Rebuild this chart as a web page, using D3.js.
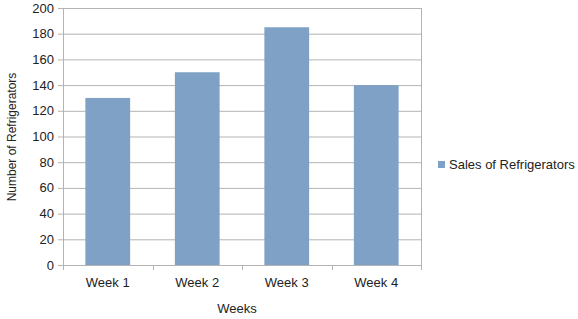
<!DOCTYPE html>
<html>
<head>
<meta charset="utf-8">
<script src="https://cdn.jsdelivr.net/npm/d3@7"></script>
<style>
  body { margin: 0; background: #fff; }
  svg { font-family: "Liberation Sans", Arial, sans-serif; }
</style>
</head>
<body>
<svg id="svg" width="578" height="319"></svg>
<script>
// data
const weeks = ['Week 1', 'Week 2', 'Week 3', 'Week 4'];
const sales = [130, 150, 185, 140];
const yTicks = [0, 20, 40, 60, 80, 100, 120, 140, 160, 180, 200];
const seriesName = 'Sales of Refrigerators';

const svg = d3.select('#svg');
const plotL = 63, plotR = 421, plotT = 8, plotB = 265;

const x = d3.scaleBand().domain(weeks).range([plotL, plotR]).paddingInner(0.5).paddingOuter(0.25);
const y = d3.scaleLinear().domain([0, 200]).range([plotB, plotT]);

// grid
svg.append('g').selectAll('line').data(yTicks).join('line')
  .attr('x1', plotL - 5).attr('x2', plotR)
  .attr('y1', d => y(d) + 0.5).attr('y2', d => y(d) + 0.5)
  .attr('stroke', '#b3b3b3');

// right border
svg.append('line').attr('x1', plotR + 0.5).attr('x2', plotR + 0.5)
  .attr('y1', plotT).attr('y2', plotB).attr('stroke', '#b3b3b3');

// bars
svg.append('g').selectAll('rect').data(sales).join('rect')
  .attr('x', (d, i) => x(weeks[i]))
  .attr('width', x.bandwidth())
  .attr('y', d => y(d))
  .attr('height', d => plotB - y(d))
  .attr('fill', '#7ea1c5');

// y axis line
svg.append('line').attr('x1', plotL + 0.5).attr('x2', plotL + 0.5)
  .attr('y1', plotT).attr('y2', plotB + 5).attr('stroke', '#b3b3b3');

// x axis ticks at category boundaries
const step = (plotR - plotL) / weeks.length;
svg.append('g').selectAll('line').data(d3.range(weeks.length + 1)).join('line')
  .attr('x1', i => Math.round(plotL + i * step) + 0.5)
  .attr('x2', i => Math.round(plotL + i * step) + 0.5)
  .attr('y1', plotB).attr('y2', plotB + 5)
  .attr('stroke', '#b3b3b3');

// y tick labels
svg.append('g').selectAll('text').data(yTicks).join('text')
  .attr('x', plotL - 9).attr('y', d => y(d) + 4.5)
  .attr('text-anchor', 'end').attr('font-size', 13).attr('fill', '#222')
  .text(d => d);

// x tick labels
svg.append('g').selectAll('text').data(weeks).join('text')
  .attr('x', d => x(d) + x.bandwidth() / 2).attr('y', 287)
  .attr('text-anchor', 'middle').attr('font-size', 13).attr('fill', '#222')
  .text(d => d);

// axis titles
svg.append('text').attr('x', 237).attr('y', 313)
  .attr('text-anchor', 'middle').attr('font-size', 13).attr('fill', '#222')
  .text('Weeks');
svg.append('text')
  .attr('transform', 'translate(16,137) rotate(-90)')
  .attr('text-anchor', 'middle').attr('font-size', 12).attr('fill', '#222')
  .text('Number of Refrigerators');

// legend
svg.append('rect').attr('x', 438).attr('y', 161).attr('width', 7).attr('height', 7).attr('fill', '#7ea1c5');
svg.append('text').attr('x', 449).attr('y', 168.5)
  .attr('font-size', 13).attr('fill', '#222').text(seriesName);
</script>
</body>
</html>
